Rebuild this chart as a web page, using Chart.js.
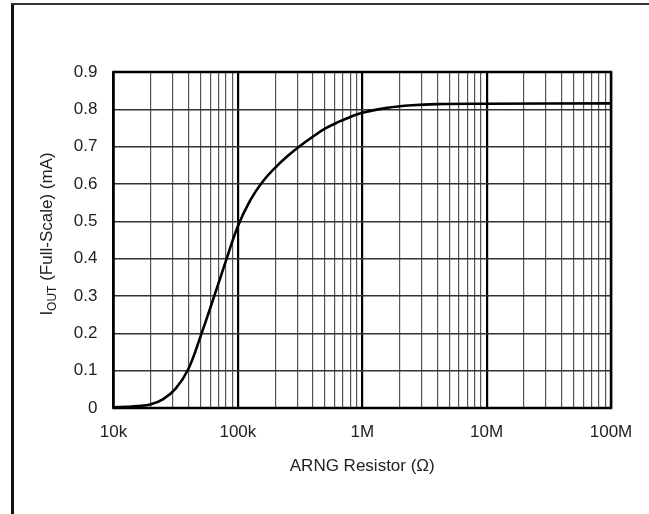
<!DOCTYPE html>
<html>
<head>
<meta charset="utf-8">
<script src="https://cdn.jsdelivr.net/npm/chart.js@4"></script>
<style>
	html, body { margin: 0; padding: 0; background: #fff; }
	#wrap { width: 649px; height: 514px; position: relative; }
</style>
</head>
<body>
<div id="wrap"><canvas id="chart" width="649" height="514"></canvas></div>
<script>
// ARNG resistor (ohms) vs full-scale output current (mA)
const resistance = [10000, 12600, 15800, 20000, 25100, 31600, 39800, 50100, 63100, 79400,
	100000, 126000, 158000, 200000, 251000, 316000, 398000, 501000, 631000, 794000,
	1000000, 1580000, 2510000, 3980000, 10000000, 100000000];
const iout = [0.002, 0.003, 0.005, 0.010, 0.024, 0.052, 0.103, 0.192, 0.29, 0.39,
	0.487, 0.557, 0.606, 0.644, 0.675, 0.702, 0.726, 0.748, 0.765, 0.779,
	0.791, 0.804, 0.811, 0.814, 0.815, 0.816];

const xDecades = [10000, 100000, 1000000, 10000000, 100000000];
const xTickLabels = ['10k', '100k', '1M', '10M', '100M'];
const yTicks = [0, 0.1, 0.2, 0.3, 0.4, 0.5, 0.6, 0.7, 0.8, 0.9];

const FONT = 'Arial, "Liberation Sans", Helvetica, sans-serif';
const TEXT = '#222';

// outer frame and y axis title (with subscript) drawn by hand
const extras = {
	id: 'extras',
	beforeDraw(chart) {
		const ctx = chart.ctx;
		ctx.save();
		ctx.fillStyle = '#fff';
		ctx.fillRect(0, 0, chart.width, chart.height);
		ctx.strokeStyle = '#111';
		ctx.lineWidth = 3;
		ctx.beginPath();
		ctx.moveTo(12.5, chart.height);
		ctx.lineTo(12.5, 3);
		ctx.stroke();
		ctx.lineWidth = 2;
		ctx.strokeStyle = '#333';
		ctx.beginPath();
		ctx.moveTo(11, 4);
		ctx.lineTo(chart.width, 4);
		ctx.stroke();
		ctx.restore();
	},
	afterDraw(chart) {
		const ctx = chart.ctx;
		const area = chart.chartArea;
		ctx.save();
		// plot frame
		ctx.strokeStyle = '#000';
		ctx.lineWidth = 2.5;
		ctx.strokeRect(area.left, area.top, area.right - area.left, area.bottom - area.top);

		// y title
		const big = '17px ' + FONT;
		const small = '12px ' + FONT;
		ctx.font = big;
		const wI = ctx.measureText('I').width;
		const rest = ' (Full-Scale) (mA)';
		const wRest = ctx.measureText(rest).width;
		ctx.font = small;
		const wSub = ctx.measureText('OUT').width;
		const total = wI + wSub + wRest;
		ctx.translate(52, 234);
		ctx.rotate(-Math.PI / 2);
		ctx.fillStyle = TEXT;
		ctx.textBaseline = 'alphabetic';
		ctx.textAlign = 'left';
		let x = -total / 2;
		ctx.font = big;
		ctx.fillText('I', x, 0);
		x += wI;
		ctx.font = small;
		ctx.fillText('OUT', x, 4);
		x += wSub;
		ctx.font = big;
		ctx.fillText(rest, x, 0);
		ctx.restore();
	}
};

new Chart(document.getElementById('chart'), {
	type: 'scatter',
	data: {
		datasets: [{
			data: resistance.map((r, i) => ({ x: r, y: iout[i] })),
			showLine: true,
			borderColor: '#000',
			borderWidth: 2.6,
			pointRadius: 0,
			tension: 0.4,
			fill: false
		}]
	},
	options: {
		responsive: false,
		animation: false,
		layout: { padding: { left: 0, top: 72, right: 38, bottom: 0 } },
		plugins: {
			legend: { display: false },
			tooltip: { enabled: false }
		},
		scales: {
			x: {
				type: 'logarithmic',
				min: 10000,
				max: 100000000,
				afterBuildTicks: (scale) => {
					const ticks = [];
					xDecades.forEach((d, i) => {
						ticks.push({ value: d });
						if (i < xDecades.length - 1) {
							for (let m = 2; m <= 9; m++) ticks.push({ value: d * m });
						}
					});
					scale.ticks = ticks;
				},
				afterFit: (scale) => { scale.height = 106; },
				grid: {
					drawTicks: false,
					color: (c) => xDecades.includes(c.tick && c.tick.value) ? '#000' : '#555',
					lineWidth: (c) => xDecades.includes(c.tick && c.tick.value) ? 2.2 : 1.2
				},
				border: { display: false },
				ticks: {
					autoSkip: false,
					maxRotation: 0,
					padding: 14,
					color: TEXT,
					font: { family: FONT, size: 17 },
					callback: (v) => {
						const i = xDecades.indexOf(v);
						return i >= 0 ? xTickLabels[i] : '';
					}
				},
				title: {
					display: true,
					text: 'ARNG Resistor (\u03A9)',
					color: TEXT,
					font: { family: FONT, size: 17 },
					padding: { top: 0, bottom: 37 }
				}
			},
			y: {
				min: 0,
				max: 0.9,
				afterBuildTicks: (scale) => { scale.ticks = yTicks.map(v => ({ value: v })); },
				afterFit: (scale) => { scale.width = 113.5; },
				grid: {
					drawTicks: false,
					color: '#333',
					lineWidth: 1.4
				},
				border: { display: false },
				ticks: {
					padding: 16,
					color: TEXT,
					font: { family: FONT, size: 17 },
					callback: (v) => String(Math.round(v * 10) / 10)
				}
			}
		}
	},
	plugins: [extras]
});
</script>
</body>
</html>
